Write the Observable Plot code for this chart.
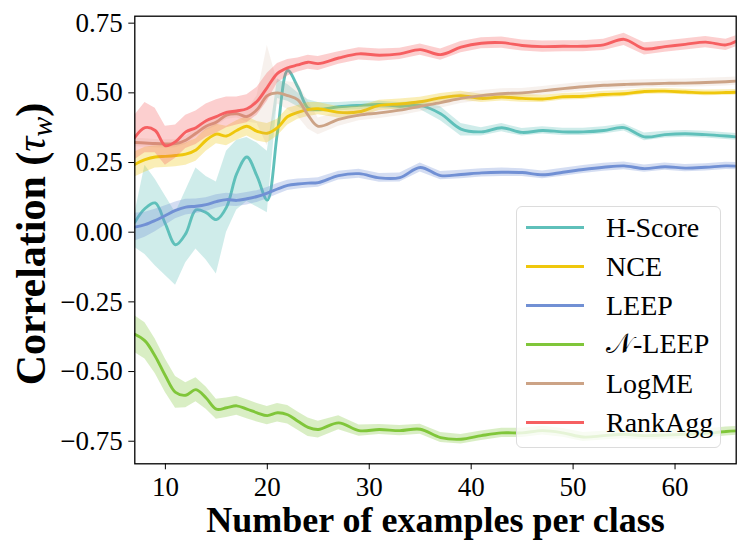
<!DOCTYPE html>
<html>
<head>
<meta charset="utf-8">
<script src="https://cdn.jsdelivr.net/npm/d3@7"></script>
<script src="https://cdn.jsdelivr.net/npm/@observablehq/plot@0.6"></script>
<style>
  body { margin: 0; background: #fff; }
  #wrap { position: relative; width: 748px; height: 555px; font-family: "Liberation Serif", "Times New Roman", serif; }
  #wrap svg text { font-family: "Liberation Serif", "Times New Roman", serif; }
  .legend { position: absolute; left: 516px; top: 206px; width: 205px; height: 242px; box-sizing: border-box;
            background: rgba(255,255,255,0.8); border: 1px solid #dcdcdc; border-radius: 6px; padding-top: 1px; }
  .legend .row { height: 39px; display: flex; align-items: center; font-size: 28px; color: #000; }
  .legend .sw { width: 58px; height: 3px; margin-left: 9px; margin-right: 22px; }
</style>
</head>
<body>
<div id="wrap"></div>
<script>
const names  = ["H-Score", "NCE", "LEEP", "𝒩-LEEP", "LogME", "RankAgg"];
const colors = ["#5fc0ba", "#efc70c", "#7190d4", "#80c63a", "#cca386", "#f65f61"];
const xTicks = [10, 20, 30, 40, 50, 60];
const yTicks = [-0.75, -0.5, -0.25, 0, 0.25, 0.5, 0.75];
const xLabel = "Number of examples per class";
const serif = "'Liberation Serif', 'Times New Roman', serif";

const xs = [7,8,9,10,11,12,13,14,15,16,17,18,19,20,21,22,23,24,25,27,29,31,33,35,37,39,41,43,45,47,49,51,53,55,57,59,61,63,65,66];

const hscoreMean = [0.036,0.085,0.105,0.03,-0.045,-0.005,0.08,0.07,0.045,0.09,0.21,0.27,0.2,0.115,0.36,0.58,0.52,0.445,0.44,0.45,0.455,0.458,0.452,0.455,0.425,0.37,0.36,0.375,0.358,0.365,0.36,0.36,0.365,0.375,0.342,0.35,0.353,0.35,0.345,0.342];
const hscoreLo = [-0.055,-0.08,-0.12,-0.155,-0.19,-0.11,-0.06,-0.1,-0.15,0.0,0.08,0.11,0.09,0.07,0.48,0.47,0.45,0.43,0.43,0.435,0.44,0.445,0.44,0.44,0.40,0.345,0.345,0.36,0.345,0.352,0.347,0.347,0.352,0.363,0.328,0.338,0.341,0.338,0.333,0.33];
const hscoreHi = [0.066,0.24,0.19,0.13,0.07,0.15,0.23,0.2,0.18,0.29,0.33,0.34,0.32,0.29,0.55,0.53,0.5,0.475,0.465,0.465,0.47,0.47,0.465,0.47,0.45,0.39,0.375,0.39,0.372,0.378,0.373,0.373,0.378,0.388,0.356,0.362,0.365,0.362,0.357,0.354];

const nceMean = [0.243,0.26,0.27,0.272,0.275,0.28,0.295,0.33,0.352,0.345,0.365,0.38,0.362,0.355,0.375,0.415,0.43,0.44,0.443,0.43,0.432,0.455,0.46,0.468,0.482,0.49,0.48,0.485,0.48,0.478,0.486,0.488,0.494,0.497,0.505,0.506,0.503,0.5,0.501,0.502];
const nceHalf = [0.045,0.045,0.04,0.04,0.04,0.04,0.04,0.04,0.035,0.035,0.035,0.035,0.035,0.035,0.03,0.03,0.025,0.025,0.022,0.02,0.02,0.018,0.018,0.016,0.016,0.016,0.015,0.014,0.014,0.013,0.012,0.012,0.012,0.011,0.01,0.01,0.01,0.01,0.01,0.01];

const leepMean = [0.018,0.027,0.042,0.06,0.078,0.09,0.093,0.099,0.11,0.117,0.114,0.12,0.128,0.14,0.155,0.168,0.173,0.176,0.178,0.203,0.21,0.195,0.196,0.232,0.203,0.207,0.213,0.215,0.214,0.206,0.215,0.225,0.233,0.238,0.228,0.235,0.23,0.233,0.238,0.237];
const leepHalf = [0.05,0.045,0.04,0.035,0.03,0.028,0.026,0.025,0.024,0.023,0.022,0.022,0.021,0.02,0.02,0.018,0.018,0.017,0.017,0.016,0.016,0.016,0.016,0.016,0.015,0.015,0.015,0.015,0.014,0.014,0.014,0.014,0.014,0.014,0.013,0.013,0.013,0.013,0.013,0.013];

const nleepMean = [-0.366,-0.39,-0.445,-0.515,-0.575,-0.585,-0.565,-0.595,-0.635,-0.63,-0.623,-0.635,-0.648,-0.658,-0.648,-0.655,-0.678,-0.7,-0.708,-0.684,-0.712,-0.708,-0.712,-0.707,-0.737,-0.743,-0.73,-0.72,-0.72,-0.712,-0.72,-0.735,-0.73,-0.725,-0.73,-0.728,-0.725,-0.722,-0.715,-0.713];
const nleepHalf = [0.066,0.065,0.062,0.06,0.057,0.045,0.043,0.04,0.036,0.035,0.034,0.034,0.033,0.033,0.033,0.033,0.033,0.033,0.03,0.025,0.02,0.018,0.018,0.018,0.018,0.017,0.017,0.017,0.017,0.016,0.016,0.016,0.016,0.016,0.016,0.016,0.016,0.016,0.016,0.016];

const logmeMean = [0.322,0.32,0.318,0.317,0.318,0.33,0.355,0.38,0.395,0.42,0.425,0.415,0.44,0.49,0.5,0.49,0.475,0.42,0.38,0.405,0.42,0.428,0.438,0.452,0.465,0.48,0.49,0.497,0.5,0.507,0.515,0.522,0.527,0.53,0.532,0.534,0.535,0.537,0.54,0.542];
const logmeHalf = [0.015,0.015,0.015,0.015,0.015,0.015,0.015,0.015,0.015,0.015,0.015,0.02,0.05,0.18,0.04,0.05,0.06,0.05,0.03,0.025,0.02,0.02,0.02,0.02,0.02,0.018,0.018,0.018,0.016,0.016,0.016,0.016,0.015,0.015,0.015,0.015,0.015,0.015,0.015,0.015];

const rankMean = [0.34,0.375,0.365,0.31,0.325,0.36,0.375,0.40,0.415,0.43,0.435,0.443,0.47,0.52,0.57,0.59,0.60,0.61,0.605,0.625,0.64,0.635,0.64,0.655,0.637,0.664,0.678,0.68,0.67,0.666,0.667,0.667,0.672,0.692,0.658,0.666,0.674,0.682,0.672,0.685];
const rankHalf = [0.08,0.09,0.08,0.07,0.06,0.06,0.06,0.06,0.06,0.055,0.05,0.05,0.05,0.05,0.035,0.03,0.025,0.025,0.025,0.022,0.022,0.022,0.02,0.02,0.02,0.02,0.02,0.02,0.02,0.02,0.02,0.02,0.02,0.022,0.022,0.02,0.02,0.02,0.02,0.02];

function rowsFrom(name, mean, lo, hi) {
  return xs.map((x, i) => ({series: name, x, y: mean[i], lo: lo[i], hi: hi[i]}));
}
function rowsHalf(name, mean, half) {
  return rowsFrom(name, mean, mean.map((m, i) => m - half[i]), mean.map((m, i) => m + half[i]));
}

const seriesRows = [
  rowsFrom(names[0], hscoreMean, hscoreLo, hscoreHi),
  rowsHalf(names[1], nceMean, nceHalf),
  rowsHalf(names[2], leepMean, leepHalf),
  rowsHalf(names[3], nleepMean, nleepHalf),
  rowsHalf(names[4], logmeMean, logmeHalf),
  rowsHalf(names[5], rankMean, rankHalf)
];
const bandOpacity = [0.3, 0.3, 0.3, 0.3, 0.15, 0.3];

const marks = [];
seriesRows.forEach((rows, k) => {
  marks.push(Plot.areaY(rows, {x: "x", y1: "lo", y2: "hi", fill: "series", fillOpacity: bandOpacity[k], curve: "linear"}));
  marks.push(Plot.line(rows, {x: "x", y: "y", stroke: "series", strokeWidth: 2.9, curve: "catmull-rom"}));
});

const chart = Plot.plot({
  width: 748,
  height: 555,
  marginLeft: 134.3,
  marginRight: 12.3,
  marginTop: 15.7,
  marginBottom: 91.7,
  style: {fontFamily: serif, background: "white", color: "black"},
  x: {domain: [7, 66]},
  y: {domain: [-0.831, 0.775]},
  color: {domain: names, range: colors},
  clip: true,
  marks: [
    ...marks,
    Plot.frame({stroke: "black", strokeWidth: 1.3}),
    Plot.axisX({ticks: xTicks, tickSize: 6, tickPadding: 7, fontSize: 27, fontFamily: serif, label: null, tickFormat: d3.format("d")}),
    Plot.axisY({ticks: yTicks, tickSize: 6, tickPadding: 6, fontSize: 27, fontFamily: serif, label: null, tickFormat: d3.format(".2f")}),
    Plot.text([xLabel], {frameAnchor: "bottom", text: d => d, dy: 68, lineAnchor: "bottom", fontSize: 36, fontWeight: "bold", fontFamily: serif, clip: false})
  ]
});

const wrap = document.getElementById("wrap");
wrap.appendChild(chart);

// y-axis title with italic tau and subscript w
const svg = d3.select(chart);
const yl = svg.append("text")
  .attr("transform", "translate(45,244) rotate(-90)")
  .attr("text-anchor", "middle")
  .attr("font-size", 42)
  .attr("font-weight", "bold")
  .attr("font-family", serif)
  .attr("fill", "black");
yl.append("tspan").text("Correlation (");
yl.append("tspan").attr("font-style", "italic").attr("font-weight", "normal").text("τ");
yl.append("tspan").attr("font-style", "italic").attr("font-weight", "normal").attr("font-size", 30).attr("dy", 7).text("w");
yl.append("tspan").attr("dy", -7).text(")");

// legend
const leg = document.createElement("div");
leg.className = "legend";
names.forEach((n, i) => {
  const row = document.createElement("div");
  row.className = "row";
  const sw = document.createElement("span");
  sw.className = "sw";
  sw.style.background = colors[i];
  const t = document.createElement("span");
  t.textContent = n;
  row.appendChild(sw);
  row.appendChild(t);
  leg.appendChild(row);
});
wrap.appendChild(leg);
</script>
</body>
</html>
